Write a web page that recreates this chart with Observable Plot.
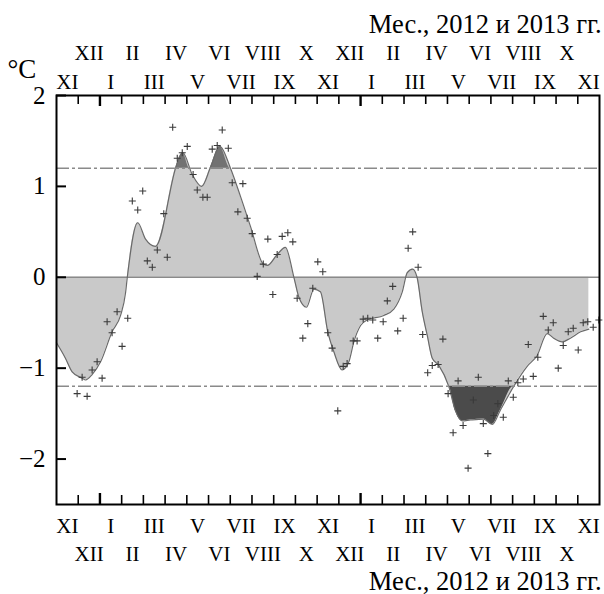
<!DOCTYPE html>
<html>
<head>
<meta charset="utf-8">
<script src="https://cdn.jsdelivr.net/npm/d3@7"></script>
<script src="https://cdn.jsdelivr.net/npm/@observablehq/plot@0.6"></script>
<style>
  html, body { margin: 0; padding: 0; background: #fff; }
  #chart svg { display: block; }
  #chart svg text { font-family: "Liberation Serif", "Times New Roman", serif; }
</style>
</head>
<body>
<div id="chart"></div>
<script>
// Time axis: months since 1 Nov 2011 (0 = start of XI 2011, 25 = end of XI 2013)
const monthLabels = ["XI","XII","I","II","III","IV","V","VI","VII","VIII","IX","X",
                     "XI","XII","I","II","III","IV","V","VI","VII","VIII","IX","X","XI"];
const yTickValues = [2, 1, 0, -1, -2];
const threshold = 1.2;
const axisTitle = "Мес., 2012 и 2013 гг.";
const unitLabel = "°C";

// Smoothed anomaly curve (month offset, °C)
const curveM = [0, 0.41, 0.72, 1.18, 1.34, 1.64, 2.03, 2.56, 2.95, 3.18, 3.26, 3.74, 4.10, 4.56,
  5.55, 5.82, 6.25, 6.68, 7.09, 7.52, 8.01, 8.47, 8.93, 9.52, 9.70, 10.16, 10.54, 10.93, 11.16,
  11.51, 11.85, 12.15, 12.49, 12.77, 13.15, 13.46, 13.69, 14.0, 14.3, 15.07, 15.53, 15.92, 16.15,
  16.4, 16.6, 16.84, 17.07, 17.3, 17.6, 18.06, 18.37, 18.68, 19.06, 19.67, 20.06, 20.44, 21.05,
  21.67, 22.13, 22.59, 22.89, 23.28, 23.66, 24.13, 24.51];
const curveV = [-0.72, -0.89, -1.04, -1.11, -1.13, -1.07, -0.93, -0.60, -0.42, -0.17, 0.0, 0.60, 0.42, 0.34,
  1.25, 1.37, 1.13, 1.0, 1.21, 1.44, 1.2, 0.89, 0.56, 0.145, 0.13, 0.25, 0.33, 0.0, -0.22,
  -0.33, -0.13, -0.16, -0.6, -0.82, -1.02, -0.93, -0.71, -0.53, -0.47, -0.42, -0.35, -0.16, 0.05,
  0.09, 0.0, -0.38, -0.64, -0.89, -0.97, -1.2, -1.47, -1.58, -1.57, -1.56, -1.62, -1.46, -1.2,
  -0.98, -0.86, -0.62, -0.67, -0.71, -0.67, -0.60, -0.57];

// Individual values (+ markers)
const pointM = [0.95, 1.18, 1.41, 1.64, 1.87, 2.10, 2.33, 2.56, 2.79, 3.02, 3.28, 3.49, 3.74, 3.97,
  4.18, 4.41, 4.64, 4.94, 5.10, 5.35, 5.56, 5.79, 6.02, 6.29, 6.48, 6.74, 6.94, 7.17, 7.40, 7.63,
  7.91, 8.09, 8.35, 8.58, 8.78, 9.01, 9.24, 9.52, 9.73, 9.96, 10.16, 10.39, 10.65, 10.88, 11.08,
  11.34, 11.57, 11.80, 12.03, 12.26, 12.49, 12.69, 12.95, 13.20, 13.38, 13.66, 13.84, 14.12, 14.33,
  14.56, 14.79, 15.04, 15.23, 15.48, 15.71, 15.96, 16.19, 16.40, 16.65, 16.86, 17.09, 17.30, 17.57,
  17.79, 18.03, 18.26, 18.49, 18.72, 18.95, 19.19, 19.42, 19.65, 19.86, 20.13, 20.32, 20.57, 20.80,
  21.03, 21.24, 21.49, 21.72, 21.95, 22.16, 22.41, 22.64, 22.87, 23.10, 23.33, 23.56, 23.79, 24.02,
  24.25, 24.46, 24.71, 24.97];
const pointV = [-1.28, -1.10, -1.31, -1.02, -0.93, -1.11, -0.49, -0.61, -0.38, -0.76, -0.45, 0.84, 0.74, 0.95,
  0.18, 0.11, 0.30, 0.70, 0.22, 1.65, 1.31, 1.37, 1.44, 1.13, 0.96, 0.88, 0.88, 1.41, 1.45, 1.62,
  1.42, 1.04, 0.72, 1.03, 0.65, 0.48, 0.01, 0.145, 0.42, -0.19, 0.25, 0.45, 0.49, 0.39, -0.23,
  -0.67, -0.51, -0.12, 0.17, 0.06, -0.61, -0.78, -1.47, -0.98, -0.95, -0.70, -0.70, -0.46, -0.45,
  -0.47, -0.67, -0.49, -0.26, -0.10, -0.59, -0.45, 0.32, 0.50, 0.11, -0.63, -1.05, -0.97, -0.96,
  -0.68, -1.28, -1.71, -1.14, -1.63, -2.10, -1.35, -1.10, -1.61, -1.94, -1.52, -1.39, -1.54, -1.14,
  -1.32, -1.16, -1.12, -0.74, -1.09, -0.88, -0.43, -0.58, -0.50, -1.00, -0.75, -0.60, -0.56, -0.80,
  -0.50, -0.49, -0.55, -0.47];

// ---- build tables ----
const curve = curveM.map((m, i) => ({m, v: curveV[i]}));
const points = pointM.map((m, i) => ({m, v: pointV[i]}));
const labels = monthLabels.map((label, i) => ({m: i + 0.5, label, row: i % 2}));
const monthTicks = d3.range(1, monthLabels.length);
const yearTicks = [2, 14];

// insert threshold crossings so the clipped fills start/end on the curve
function withCrossings(data, t) {
  const out = [];
  for (let i = 0; i < data.length; i++) {
    out.push(data[i]);
    if (i + 1 < data.length) {
      const a = data[i], b = data[i + 1];
      if ((a.v - t) * (b.v - t) < 0) {
        const f = (t - a.v) / (b.v - a.v);
        out.push({m: a.m + f * (b.m - a.m), v: t});
      }
    }
  }
  return out;
}
const upper = withCrossings(curve, threshold);
const lower = withCrossings(curve, -threshold);

const W = 604, H = 594, mt = 95, mb = 90, ml = 56, mr = 5;
const innerW = W - ml - mr, innerH = H - mt - mb;
const serif = "Liberation Serif";
const smooth = "monotone-x";

const chart = Plot.plot({
  width: W,
  height: H,
  marginTop: mt,
  marginBottom: mb,
  marginLeft: ml,
  marginRight: mr,
  style: {fontFamily: serif, background: "#fff", color: "#000"},
  x: {domain: [0, monthLabels.length], axis: null},
  y: {domain: [-2.5, 2], axis: null},
  marks: [
    Plot.areaY(curve, {x: "m", y1: 0, y2: "v", fill: "#c9c9c9", curve: smooth}),
    Plot.areaY(upper, {x: "m", y1: threshold, y2: d => Math.max(d.v, threshold), fill: "#727272", curve: smooth}),
    Plot.areaY(lower, {x: "m", y1: -threshold, y2: d => Math.min(d.v, -threshold), fill: "#4b4b4b", curve: smooth}),
    Plot.ruleY([0], {stroke: "#8a8a8a", strokeWidth: 1.5}),
    Plot.line(curve, {x: "m", y: "v", stroke: "#6a6a6a", strokeWidth: 1.2, curve: smooth}),
    Plot.ruleY([threshold, -threshold], {stroke: "#8a8a8a", strokeWidth: 1.5, strokeDasharray: "13,3,3,3"}),
    Plot.dot(points, {x: "m", y: "v", symbol: "plus", r: 2.4, stroke: "#3a3a3a", strokeWidth: 1.1, clip: false}),
    // inward ticks
    Plot.tickX(monthTicks.filter(d => !yearTicks.includes(d)), {x: d => d, insetBottom: innerH - 9, stroke: "#000", strokeWidth: 1.6}),
    Plot.tickX(monthTicks.filter(d => !yearTicks.includes(d)), {x: d => d, insetTop: innerH - 9, stroke: "#000", strokeWidth: 1.6}),
    Plot.tickX(yearTicks, {x: d => d, insetBottom: innerH - 11, stroke: "#000", strokeWidth: 2.4}),
    Plot.tickX(yearTicks, {x: d => d, insetTop: innerH - 11, stroke: "#000", strokeWidth: 2.4}),
    Plot.tickY(yTickValues, {y: d => d, insetRight: innerW - 10, stroke: "#000", strokeWidth: 2}),
    Plot.frame({stroke: "#000", strokeWidth: 2}),
    // y tick labels
    Plot.text(yTickValues, {y: d => d, text: d => d < 0 ? "\u2212" + Math.abs(d) : String(d),
      frameAnchor: "left", textAnchor: "end", dx: -11, fontSize: 25, fontFamily: serif, fill: "#000"}),
    // month labels, top
    Plot.text(labels.filter(d => d.row === 0), {x: "m", text: "label", frameAnchor: "top",
      lineAnchor: "bottom", dy: -7, fontSize: 21, fontFamily: serif, fill: "#000"}),
    Plot.text(labels.filter(d => d.row === 1), {x: "m", text: "label", frameAnchor: "top",
      lineAnchor: "bottom", dy: -36, fontSize: 21, fontFamily: serif, fill: "#000"}),
    // month labels, bottom
    Plot.text(labels.filter(d => d.row === 0), {x: "m", text: "label", frameAnchor: "bottom",
      lineAnchor: "bottom", dy: 28, fontSize: 21, fontFamily: serif, fill: "#000"}),
    Plot.text(labels.filter(d => d.row === 1), {x: "m", text: "label", frameAnchor: "bottom",
      lineAnchor: "bottom", dy: 56, fontSize: 21, fontFamily: serif, fill: "#000"}),
    // axis titles
    Plot.text([axisTitle], {frameAnchor: "top-right", textAnchor: "end", lineAnchor: "bottom",
      dx: 2, dy: -63, fontSize: 26.5, fontFamily: serif, fill: "#000"}),
    Plot.text([axisTitle], {frameAnchor: "bottom-right", textAnchor: "end", lineAnchor: "bottom",
      dx: 2, dy: 85, fontSize: 26.5, fontFamily: serif, fill: "#000"}),
    Plot.text([unitLabel], {frameAnchor: "top-left", textAnchor: "start", lineAnchor: "bottom",
      dx: -49, dy: -18, fontSize: 27, fontFamily: serif, fill: "#000"})
  ]
});
document.getElementById("chart").append(chart);
</script>
</body>
</html>
